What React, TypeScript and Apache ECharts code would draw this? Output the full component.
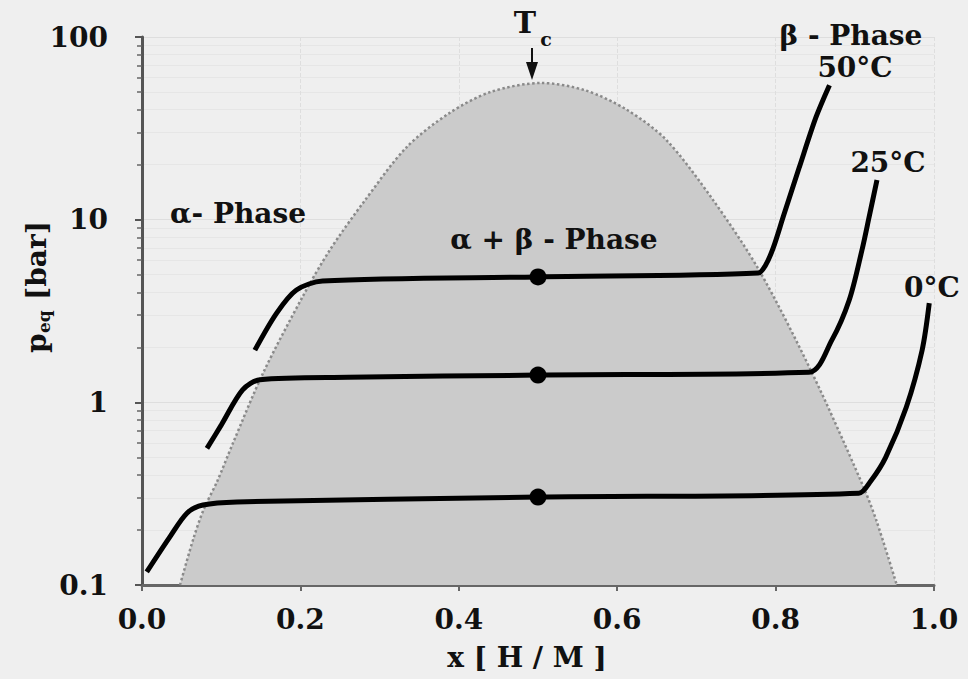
import React, { useEffect, useRef } from "react";
import * as echarts from "echarts";

// Two-phase dome (boundary of the α+β region)
const domeX = [0.048, 0.065, 0.078, 0.095, 0.115, 0.153, 0.203, 0.237, 0.28, 0.334, 0.388, 0.44, 0.504, 0.56, 0.612, 0.662, 0.72, 0.779, 0.846, 0.909, 0.927, 0.953];
const domeY = [0.1, 0.18, 0.26, 0.37, 0.6, 1.45, 3.8, 6.8, 12.5, 24.9, 38.3, 50, 56, 51, 40, 27.3, 13, 5.3, 1.45, 0.36, 0.227, 0.1];

// Isotherms
const iso50X = [0.1425, 0.17, 0.195, 0.228, 0.5, 0.778, 0.787, 0.797, 0.81, 0.83, 0.851, 0.868];
const iso50Y = [1.93, 3.08, 4.12, 4.61, 4.86, 5.1, 5.6, 7.0, 10.5, 19.4, 36.4, 54.5];
const iso25X = [0.082, 0.1, 0.127, 0.149, 0.26, 0.5, 0.842, 0.871, 0.893, 0.909, 0.918, 0.928];
const iso25Y = [0.56, 0.75, 1.17, 1.33, 1.37, 1.41, 1.46, 2.19, 3.63, 6.8, 10.3, 16.5];
const iso0X = [0.006, 0.035, 0.057, 0.077, 0.12, 0.5, 0.905, 0.92, 0.939, 0.965, 0.985, 0.994];
const iso0Y = [0.118, 0.183, 0.248, 0.274, 0.285, 0.303, 0.318, 0.37, 0.5, 0.94, 1.93, 3.49];

// Critical points at x = 0.5 on each plateau
const dotX = [0.5, 0.5, 0.5];
const dotY = [4.86, 1.41, 0.303];

const xTickLabels = ["0.0", "0.2", "0.4", "0.6", "0.8", "1.0"];
const yTickLabels: Record<string, string> = { "0.1": "0.1", "1": "1", "10": "10", "100": "100" };

const FONT = '"DejaVu Serif", "Liberation Serif", serif';

const zip = (xs: number[], ys: number[]) => xs.map((x, i) => [x, ys[i]]);

const txt = (text: string, x: number, y: number, size = 28, align = "center") => ({
  type: "text",
  x,
  y,
  style: {
    text,
    fill: "#111",
    fontFamily: FONT,
    fontWeight: "bold",
    fontSize: size,
    textAlign: align,
    verticalAlign: "middle",
  },
  z: 100,
});

export default function App() {
  const ref = useRef<HTMLDivElement>(null);
  useEffect(() => {
    if (!ref.current) return;
    const chart = echarts.init(ref.current, undefined, { renderer: "svg" });
    const isoStyle = { color: "#000", width: 5 };
    chart.setOption({
      animation: false,
      backgroundColor: "#efefef",
      grid: { left: 142, right: 34, top: 37, bottom: 94 },
      xAxis: {
        type: "value",
        min: 0,
        max: 1,
        interval: 0.2,
        axisLine: { show: true, lineStyle: { color: "#666", width: 3 } },
        axisTick: { show: true, length: 6, lineStyle: { color: "#666", width: 2 } },
        axisLabel: {
          margin: 20,
          color: "#111",
          fontFamily: FONT,
          fontWeight: "bold",
          fontSize: 28,
          formatter: (v: number) => xTickLabels[Math.round(v / 0.2)] ?? "",
        },
        splitLine: { show: true, lineStyle: { color: "#dedede", width: 1, type: "dashed" } },
      },
      yAxis: {
        type: "log",
        logBase: 10,
        min: 0.1,
        max: 100,
        offset: 14,
        axisLine: { show: true, lineStyle: { color: "#555", width: 3 } },
        axisTick: { show: true, length: 7, lineStyle: { color: "#555", width: 2 } },
        minorTick: { show: true, splitNumber: 9, length: 5, lineStyle: { color: "#666", width: 1.5 } },
        axisLabel: {
          margin: 20,
          color: "#111",
          fontFamily: FONT,
          fontWeight: "bold",
          fontSize: 28,
          formatter: (v: number) => {
            const k = v < 1 ? v.toFixed(1) : String(Math.round(v));
            return yTickLabels[k] ?? k;
          },
        },
        splitLine: { show: true, lineStyle: { color: "#dedede", width: 1 } },
        minorSplitLine: { show: true, lineStyle: { color: "#e6e6e6", width: 1 } },
      },
      series: [
        {
          name: "dome",
          type: "line",
          data: zip(domeX, domeY),
          smooth: 0.3,
          symbol: "none",
          lineStyle: { color: "#8a8a8a", width: 2.5, type: "dotted" },
          areaStyle: { color: "#cbcbcb", opacity: 1, origin: "start" },
          z: 1,
        },
        { name: "50°C", type: "line", data: zip(iso50X, iso50Y), smooth: 0.3, symbol: "none", lineStyle: isoStyle, z: 3 },
        { name: "25°C", type: "line", data: zip(iso25X, iso25Y), smooth: 0.3, symbol: "none", lineStyle: isoStyle, z: 3 },
        { name: "0°C", type: "line", data: zip(iso0X, iso0Y), smooth: 0.3, symbol: "none", lineStyle: isoStyle, z: 3 },
        {
          name: "Tc",
          type: "scatter",
          data: zip(dotX, dotY),
          symbol: "circle",
          symbolSize: 17,
          itemStyle: { color: "#000", opacity: 1 },
          z: 4,
        },
      ],
      graphic: [
        txt("α- Phase", 238, 213),
        txt("α + β - Phase", 554, 239),
        txt("β - Phase", 851, 35),
        txt("50°C", 855, 67),
        txt("25°C", 888, 162),
        txt("0°C", 932, 287),
        txt("x [ H / M ]", 527, 657),
        txt("T", 525, 22, 30),
        txt("c", 546, 39, 19),
        { type: "line", shape: { x1: 532, y1: 48, x2: 532, y2: 66 }, style: { stroke: "#111", lineWidth: 2 }, z: 100 },
        { type: "polygon", shape: { points: [[526, 62], [538, 62], [532, 80]] }, style: { fill: "#111" }, z: 100 },
        {
          type: "group",
          x: 36,
          y: 287,
          rotation: Math.PI / 2,
          children: [
            txt("p", -66, 0, 28, "left"),
            txt("eq", -46, 8, 17, "left"),
            txt("[bar]", -13, 0, 28, "left"),
          ],
        },
      ],
    });
    return () => chart.dispose();
  }, []);
  return (
    <div
      ref={ref}
      style={{ position: "fixed", left: 0, top: 0, width: 968, height: 679, background: "#efefef" }}
    />
  );
}
